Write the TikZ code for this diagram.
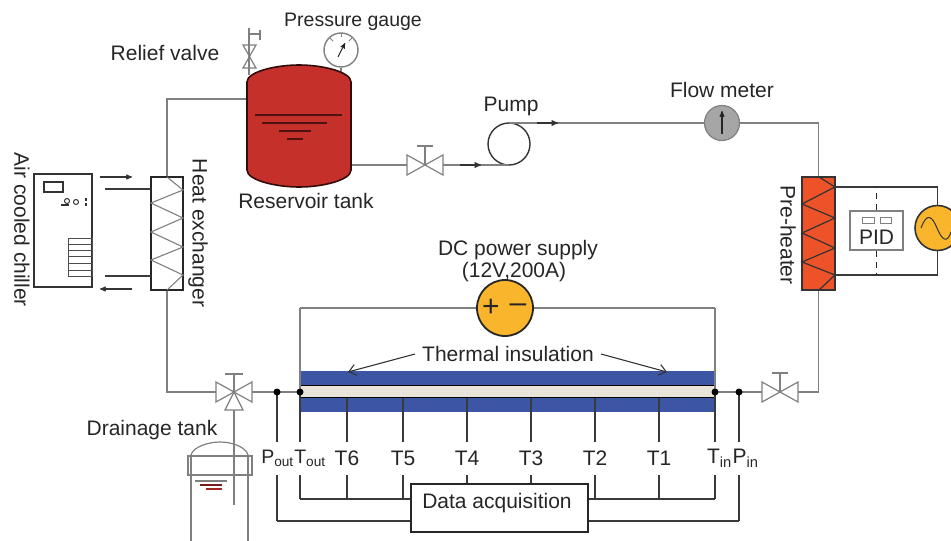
\documentclass[tikz,border=0pt]{standalone}
\usepackage{fontspec}
\setmainfont{Liberation Sans}
\usetikzlibrary{arrows,arrows.meta}
\definecolor{pipegray}{HTML}{808080}
\definecolor{wiredark}{HTML}{3A3A3A}
\definecolor{tankred}{HTML}{C5312A}
\definecolor{heatred}{HTML}{EE5228}
\definecolor{supplyyellow}{HTML}{F9B52C}
\definecolor{insulblue}{HTML}{3D55A5}
\definecolor{corebeige}{HTML}{E8E4DA}
\tikzset{
  pipe/.style={draw=pipegray,line width=1.2pt},
  wire/.style={draw=wiredark,line width=1.4pt},
  flow/.style={draw=black!80,line width=1.3pt,-stealth'},
  lbl/.style={text=black!85,font=\fontsize{21}{22}\selectfont,inner sep=0pt},
  sensor/.style={lbl,minimum height=33pt},
  sensorsub/.style={sensor,font=\fontsize{19.5}{22}\selectfont},
  joint/.style={circle,fill=black,inner sep=0pt,minimum size=7pt},
  coil/.style={draw=pipegray,line width=1.1pt},
  valve/.pic={
    \draw[pipe] (-18,-10) -- (18,10) -- (18,-10) -- (-18,10) -- cycle;
    \draw[pipe] (0,0) -- (0,-19);
    \draw[pipe] (-8,-19) -- (8,-19);
    \coordinate (-w) at (-18,0);
    \coordinate (-e) at (18,0);
  },
  valvethree/.pic={
    \draw[pipe] (-18,-10) -- (18,10) -- (18,-10) -- (-18,10) -- cycle;
    \draw[pipe] (0,0) -- (-9,18) -- (9,18) -- cycle;
    \draw[pipe] (0,0) -- (0,-18);
    \draw[pipe] (-9,-18) -- (9,-18);
    \coordinate (-w) at (-18,0);
    \coordinate (-e) at (18,0);
    \coordinate (-s) at (0,18);
  }
}
\begin{document}
\begin{tikzpicture}[x=1pt,y=-1pt]
\useasboundingbox (0,0) rectangle (951,541);
\coordinate (tankL) at (247,99);
\coordinate (tankR) at (351,165);
\coordinate (reliefB) at (249,75);
\coordinate (reliefT) at (249,28);
\coordinate (reliefM) at (249,34);
\coordinate (reliefS) at (260,34);
\coordinate (drainE) at (234,505);
\coordinate (hotL) at (300,392);
\coordinate (hotR) at (715,392);
\coordinate (pumpA) at (537,123);
\coordinate (pumpB) at (558,123);
\coordinate (inA) at (460,165);
\coordinate (inB) at (481,165);
\coordinate (busL) at (300,499);
\coordinate (busR) at (715,499);
\coordinate (outerL) at (277,521);
\coordinate (outerR) at (739,521);

\pic (V1) at (425,165) {valve};
\pic (V2) at (780,392) {valve};
\pic (V3) at (234,392) {valvethree};

\node[draw=pipegray,line width=1.4pt,circle,inner sep=0pt,minimum size=34pt] (gauge) at (341,50) {};
\node[draw=black!80,line width=1.4pt,circle,inner sep=0pt,outer sep=0pt,minimum size=42pt] (pump) at (509,144) {};
\node[draw=pipegray,fill=black!35,line width=1.2pt,circle,inner sep=0pt,minimum size=35pt] (meter) at (722,123) {};
\node[draw=black!85,line width=1.6pt,minimum width=32pt,minimum height=113pt,inner sep=0pt] (hx) at (167,233.5) {};
\node[draw=black!80,fill=heatred,line width=1.6pt,minimum width=33pt,minimum height=113pt,inner sep=0pt] (heater) at (818.5,233.5) {};
\node[draw=black!80,line width=1.5pt,minimum width=58pt,minimum height=113pt,inner sep=0pt] (chiller) at (63,230.5) {};
\node[draw=pipegray,line width=1.1pt,minimum width=53pt,minimum height=39pt,inner sep=0pt] (pid) at (876.5,230.5) {};
\node[draw=black!80,fill=supplyyellow,line width=1.6pt,circle,inner sep=0pt,minimum size=45pt] (ac) at (937.5,228) {};
\node[draw=black!85,fill=supplyyellow,line width=1.8pt,circle,inner sep=0pt,minimum size=56pt] (dc) at (505,308) {};
\node[draw=black!85,fill=white,line width=1.6pt,minimum width=177pt,minimum height=48pt,inner sep=0pt] (daq) at (499.5,508) {};

\path [pipe] (tankL) edge[to path={-| (\tikztotarget)}] (hx.north);
\path [pipe] (hx.south) edge[to path={|- (\tikztotarget)}] (V3-w);
\path [pipe] (tankR) edge (V1-w);
\path [pipe] (V1-e) edge (pump.south);
\path [pipe] (pump.north) edge (pumpB);
\path [pipe] (pumpB) edge (meter.west);
\path [pipe] (meter.east) edge[to path={-| (\tikztotarget)}] (heater.north);
\path [pipe] (heater.south) edge[to path={|- (\tikztotarget)}] (V2-e);
\path [pipe] (V2-w) edge (hotR);
\path [pipe] (V3-e) edge (hotL);
\path [pipe] (V3-s) edge (drainE);
\path [pipe] (reliefB) edge (reliefT);
\path [pipe] (reliefM) edge (reliefS);
\draw[pipe] (260,30) -- (260,40);
\draw[pipe] (243,45) -- (256,68) -- (243,68) -- (256,45) -- cycle;
\draw[pipe] (gauge.south) -- (341,72);
\draw[flow] (pumpA) -- (pumpB);
\draw[flow] (inA) -- (inB);

\draw[fill=tankred,draw=black!75!tankred,line width=1.6pt] (247,82) .. controls (247,72) and (275,65) .. (299,65) .. controls (323,65) and (351,72) .. (351,82) -- (351,170) .. controls (351,180) and (323,187) .. (299,187) .. controls (275,187) and (247,180) .. (247,170) -- cycle;
\draw[black!60!tankred,line width=1.4pt] (255,115) -- (342,115);
\draw[black!60!tankred,line width=1.4pt] (262,123) -- (327,123);
\draw[black!60!tankred,line width=1.4pt] (279,131) -- (311,131);
\draw[black!60!tankred,line width=1.4pt] (287,139) -- (303,139);

\draw[-stealth',black!85,line width=1pt] (338,57) -- (345,43);
\draw[pipegray,line width=1pt] (341,33) -- (341,37);
\draw[pipegray,line width=1pt] (330,38) -- (333,41);
\draw[pipegray,line width=1pt] (352,38) -- (349,41);
\draw[-stealth',black!85,line width=1.1pt] (722,134) -- (722,111);

\draw[coil] (167,177) -- (183,190) -- (151,203) -- (183,218) -- (151,232) -- (183,247) -- (151,260) -- (183,275) -- (167,290);
\draw[black!80,line width=1.2pt] (819,177) -- (835,187) -- (802,204) -- (835,218) -- (802,233) -- (835,248) -- (802,262) -- (835,275) -- (819,290);

\draw[black!80,line width=1.1pt] (44,182) rectangle (63,192);
\draw[black!80,line width=1pt] (76,202) circle (2.5);
\draw[black!80,line width=1.4pt] (61,205) -- (69,205);
\draw[black!80,line width=1pt] (67,201) circle (2.5);
\draw[black!80,line width=2pt] (86,198) -- (86,201);
\draw[black!80,line width=2pt] (86,203) -- (86,206);
\draw[black!70,line width=1pt] (68,238) rectangle (92,276);
\draw[black!70,line width=1pt] (68,244) -- (92,244);
\draw[black!70,line width=1pt] (68,250) -- (92,250);
\draw[black!70,line width=1pt] (68,256) -- (92,256);
\draw[black!70,line width=1pt] (68,263) -- (92,263);
\draw[black!70,line width=1pt] (68,270) -- (92,270);

\coordinate (chA) at (100,177);
\coordinate (chB) at (132,177);
\coordinate (chC) at (105,189);
\coordinate (chD) at (151,189);
\coordinate (chE) at (105,276);
\coordinate (chF) at (151,276);
\coordinate (chG) at (132,289);
\coordinate (chH) at (100,289);
\draw[flow,line width=1.1pt] (chA) -- (chB);
\draw[flow,line width=1.1pt] (chG) -- (chH);
\path [wire] (chC) edge (chD);
\path [wire] (chE) edge (chF);

\coordinate (heatT) at (835,187);
\coordinate (heatB) at (835,275);
\path [wire] (heatT) edge[to path={-| (\tikztotarget)}] (ac.north);
\path [wire] (heatB) edge[to path={-| (\tikztotarget)}] (ac.south);
\draw[black!85,line width=1.3pt,dash pattern=on 6pt off 5pt] (pid.north) -- (876.5,187);
\draw[black!85,line width=1.3pt,dash pattern=on 6pt off 5pt] (pid.south) -- (876.5,275);
\draw[pipegray,line width=1pt] (862,217) rectangle (874,223);
\draw[pipegray,line width=1pt] (880,217) rectangle (891,223);
\draw[black!80,line width=1pt] (921,228) .. controls (927,212) and (932,216) .. (937,228) .. controls (942,240) and (947,244) .. (951,232);

\fill[insulblue] (300,371) rectangle (715,412);
\fill[corebeige] (300,385.5) rectangle (715,397.5);
\draw[black,line width=1.8pt] (300,385.5) -- (715,385.5);
\draw[black,line width=1.8pt] (300,397.5) -- (715,397.5);

\coordinate (supL) at (300,308);
\coordinate (supR) at (715,308);
\path [pipe] (dc.west) edge (supL);
\path [pipe] (dc.east) edge (supR);
\path [pipe] (supL) edge (hotL);
\path [pipe] (supR) edge (hotR);

\node[sensorsub] (Pout) at (277.5,458.5) {P\textsubscript{out}};
\node[sensorsub] (Tout) at (310,458.5) {T\textsubscript{out}};
\node[sensor] (T6) at (347,458.5) {T6};
\node[sensor] (T5) at (403,458.5) {T5};
\node[sensor] (T4) at (467,458.5) {T4};
\node[sensor] (T3) at (531,458.5) {T3};
\node[sensor] (T2) at (595,458.5) {T2};
\node[sensor] (T1) at (659,458.5) {T1};
\node[sensor] (Tin) at (719.5,458.5) {T\textsubscript{in}};
\node[sensor] (Pin) at (745.5,458.5) {P\textsubscript{in}};

\coordinate (outL) at (277,392);
\coordinate (outR) at (739,392);
\coordinate (topT6) at (347,398);
\coordinate (topT5) at (403,398);
\coordinate (topT4) at (467,398);
\coordinate (topT3) at (531,398);
\coordinate (topT2) at (595,398);
\coordinate (topT1) at (659,398);
\coordinate (lowOutL) at (277,442);
\coordinate (lowOut) at (300,442);
\coordinate (lowT6) at (347,442);
\coordinate (lowT5) at (403,442);
\coordinate (lowT4) at (467,442);
\coordinate (lowT3) at (531,442);
\coordinate (lowT2) at (595,442);
\coordinate (lowT1) at (659,442);
\coordinate (lowIn) at (715,442);
\coordinate (lowInR) at (739,442);
\coordinate (busOutL) at (277,475);
\coordinate (busOut) at (300,475);
\coordinate (busT6) at (347,475);
\coordinate (busT5) at (403,475);
\coordinate (busT4) at (467,475);
\coordinate (busT3) at (531,475);
\coordinate (busT2) at (595,475);
\coordinate (busT1) at (659,475);
\coordinate (busIn) at (715,475);
\coordinate (busInR) at (739,475);
\coordinate (joinT6) at (347,499);
\coordinate (joinT5) at (403,499);
\coordinate (joinT2) at (595,499);
\coordinate (joinT1) at (659,499);

\path [wire] (outL) edge (lowOutL);
\path [wire] (hotL) edge (lowOut);
\path [wire] (topT6) edge (lowT6);
\path [wire] (topT5) edge (lowT5);
\path [wire] (topT4) edge (lowT4);
\path [wire] (topT3) edge (lowT3);
\path [wire] (topT2) edge (lowT2);
\path [wire] (topT1) edge (lowT1);
\path [wire] (hotR) edge (lowIn);
\path [wire] (outR) edge (lowInR);
\path [wire] (busOut) edge (busL);
\path [wire] (busT6) edge (joinT6);
\path [wire] (busT5) edge (joinT5);
\path [wire] (busT2) edge (joinT2);
\path [wire] (busT1) edge (joinT1);
\path [wire] (busIn) edge (busR);
\path [wire] (busT4) edge (daq.north -| busT4);
\path [wire] (busT3) edge (daq.north -| busT3);
\path [wire] (busL) edge (daq.west |- busL);
\path [wire] (busR) edge (daq.east |- busR);
\path [wire] (busOutL) edge (outerL);
\path [wire] (busInR) edge (outerR);
\path [wire] (outerL) edge (daq.west |- outerL);
\path [wire] (outerR) edge (daq.east |- outerR);

\node[joint] (J1) at (hotL) {};
\node[joint] (J2) at (hotR) {};
\node[joint] (J3) at (outL) {};
\node[joint] (J4) at (outR) {};

\draw[pipegray,line width=1.2pt] (191,455) .. controls (193,447) and (208,442) .. (220,442) .. controls (232,442) and (246,447) .. (248,455);
\draw[pipegray,line width=1.2pt] (191,455) -- (191,541);
\draw[pipegray,line width=1.2pt] (248,455) -- (248,541);
\draw[pipegray,line width=1.2pt] (188,456) rectangle (252,475);
\draw[pipegray,line width=1.2pt] (195,481) -- (227,481);
\draw[black!40!tankred,line width=1.1pt] (200,485) -- (222,485);
\draw[black!20!tankred,line width=1.1pt] (206,489) -- (222,489);

\node[lbl,font=\fontsize{19.5}{22}\selectfont] (Lgauge) at (353,22) {Pressure gauge};
\node[lbl] (Lrelief) at (165,53) {Relief valve};
\node[lbl] (Ltank) at (306,201) {Reservoir tank};
\node[lbl] (Lpump) at (511,106) {Pump};
\node[lbl] (Lmeter) at (722,90) {Flow meter};
\node[lbl] (Ldc) at (518,250) {DC power supply};
\node[lbl] (Ldcb) at (514,272) {(12V,200A)};
\node[lbl] (Lins) at (508,354) {Thermal insulation};
\node[lbl] (Ldrain) at (152,430) {Drainage tank};
\node[lbl] (Ldaq) at (497,503) {Data acquisition};
\node[lbl,font=\fontsize{21}{22}\selectfont] (Lpid) at (876.5,237) {PID};
\node[lbl,rotate=-90] (Lhx) at (198,233) {Heat exchanger};
\node[lbl,rotate=-90] (Lchiller) at (22,230) {Air cooled chiller};
\node[lbl,rotate=-90] (Lheater) at (788,235) {Pre-heater};
\node[lbl,font=\fontsize{30}{30}\selectfont] (Lplus) at (491,308) {+};
\node[lbl,font=\fontsize{30}{30}\selectfont] (Lminus) at (518,308) {\textendash};

\coordinate (insA) at (348,372);
\coordinate (insB) at (667,372);
\draw[-{Straight Barb[length=7pt,width=11pt]},black!80,line width=1.1pt] (Lins.west) ++(-7,0) -- (insA);
\draw[-{Straight Barb[length=7pt,width=11pt]},black!80,line width=1.1pt] (Lins.east) ++(7,0) -- (insB);
\end{tikzpicture}
\end{document}
